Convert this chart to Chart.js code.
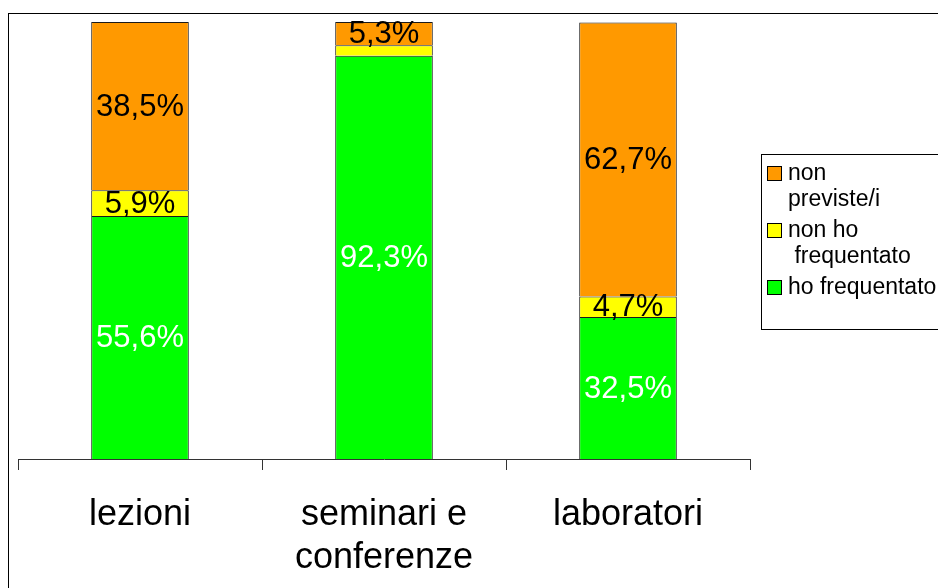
<!DOCTYPE html>
<html>
<head>
<meta charset="utf-8">
<script src="https://cdn.jsdelivr.net/npm/chart.js@4/dist/chart.umd.min.js"></script>
<style>
  html, body { margin: 0; padding: 0; background: #fff; }
  #wrap { width: 938px; height: 588px; position: relative; }
</style>
</head>
<body>
<div id="wrap"><canvas id="main-chart"></canvas></div>
<script>
const categories = ['lezioni', ['seminari e', 'conferenze'], 'laboratori'];

// percentuali per attività, dal basso verso l'alto
const frequentato = [55.6, 92.3, 32.5];
const nonFrequentato = [5.9, 2.4, 4.7];
const nonPreviste = [38.5, 5.3, 62.7];

const seriesNames = ['ho frequentato', 'non ho frequentato', 'non previste/i'];
// testo della legenda, già spezzato in righe
const legendLines = [['ho frequentato'], ['non ho', ' frequentato'], ['non', 'previste/i']];

const colors = {
  green: '#00ff00',
  yellow: '#ffff00',
  orange: '#ff9900',
  border: '#1a1a1a',
  axis: '#333333',
};

const FONT = '"Liberation Sans", Arial, sans-serif';

const pct = v => v.toFixed(1).replace('.', ',') + '%';

// cornice esterna
const framePlugin = {
  id: 'frame',
  afterDraw(chart) {
    const ctx = chart.ctx;
    ctx.save();
    ctx.strokeStyle = '#000';
    ctx.lineWidth = 1;
    ctx.strokeRect(8.5, 13.5, chart.width + 10, chart.height + 10);
    ctx.restore();
  },
};

// etichette percentuali al centro di ogni segmento
const valueLabels = {
  id: 'valueLabels',
  afterDatasetsDraw(chart) {
    const ctx = chart.ctx;
    ctx.save();
    ctx.font = '31px ' + FONT;
    ctx.textAlign = 'center';
    ctx.textBaseline = 'middle';
    chart.data.datasets.forEach((ds, i) => {
      const meta = chart.getDatasetMeta(i);
      meta.data.forEach((bar, j) => {
        const v = ds.data[j];
        if (v < 3) return; // segmenti troppo sottili
        ctx.fillStyle = i === 0 ? '#ffffff' : '#000000';
        ctx.fillText(pct(v), bar.x, (bar.y + bar.base) / 2 + 1);
      });
    });
    ctx.restore();
  },
};

// legenda a riquadro sulla destra
const boxLegend = {
  id: 'boxLegend',
  afterDraw(chart) {
    const ctx = chart.ctx;
    const left = 761.5, top = 154.5;
    ctx.save();
    ctx.strokeStyle = '#000';
    ctx.lineWidth = 1;
    ctx.strokeRect(left, top, 200, 175);

    ctx.font = '23px ' + FONT;
    ctx.textAlign = 'left';
    ctx.textBaseline = 'alphabetic';
    const lineH = 26;
    let y = 166;
    const order = [2, 1, 0];
    order.forEach(i => {
      const ds = chart.data.datasets[i];
      ctx.fillStyle = ds.backgroundColor;
      ctx.fillRect(767, y, 15, 15);
      ctx.strokeStyle = '#000';
      ctx.strokeRect(767.5, y + 0.5, 14, 14);
      ctx.fillStyle = '#000';
      legendLines[i].forEach((line, k) => {
        ctx.fillText(line, 788, y + 14 + k * lineH);
      });
      y += 57;
    });
    ctx.restore();
  },
};

new Chart(document.getElementById('main-chart'), {
  type: 'bar',
  data: {
    labels: categories,
    datasets: [
      { label: seriesNames[0], data: frequentato, backgroundColor: colors.green },
      { label: seriesNames[1], data: nonFrequentato, backgroundColor: colors.yellow },
      { label: seriesNames[2], data: nonPreviste, backgroundColor: colors.orange },
    ].map(d => ({
      ...d,
      borderColor: colors.border,
      // solo bordo superiore e laterali: una linea sottile fra i segmenti
      borderWidth: { top: 1, left: 1, right: 1, bottom: 0 },
      borderSkipped: false,
      barPercentage: 1,
      categoryPercentage: 0.4,
    })),
  },
  options: {
    responsive: true,
    maintainAspectRatio: false,
    animation: false,
    layout: { padding: { top: 22, left: 18, right: 188, bottom: 0 } },
    plugins: {
      legend: { display: false },
      tooltip: { enabled: false },
    },
    scales: {
      x: {
        stacked: true,
        afterFit: scale => { scale.height = 129; },
        grid: {
          offset: true,
          drawOnChartArea: false,
          drawTicks: true,
          tickLength: 11,
          color: colors.axis,
        },
        border: { display: true, color: colors.axis, width: 1 },
        ticks: {
          color: '#000',
          padding: 23,
          maxRotation: 0,
          autoSkip: false,
          font: { family: FONT, size: 36 },
        },
      },
      y: {
        stacked: true,
        display: false,
        min: 0,
        max: 100,
      },
    },
  },
  plugins: [valueLabels, boxLegend, framePlugin],
});
</script>
</body>
</html>
